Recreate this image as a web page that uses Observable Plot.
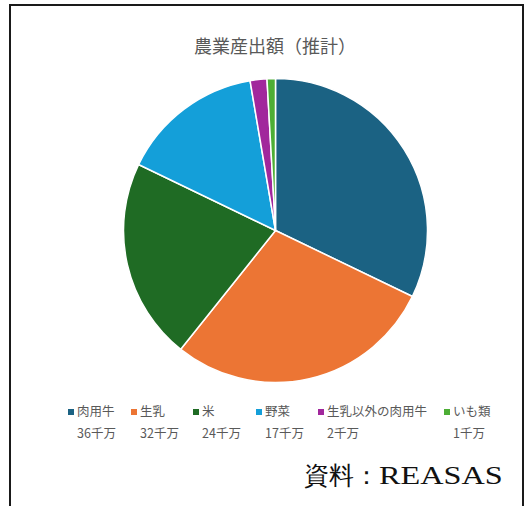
<!DOCTYPE html>
<html>
<head>
<meta charset="utf-8">
<script src="https://cdn.jsdelivr.net/npm/d3@7"></script>
<script src="https://cdn.jsdelivr.net/npm/@observablehq/plot@0.6"></script>
<style>
  html, body { margin: 0; padding: 0; background: #fff; }
  #wrap { position: relative; width: 526px; height: 506px; overflow: hidden; font-family: "Noto Sans CJK JP", "Noto Sans", sans-serif; }
  #frame { position: absolute; left: 9px; top: 4px; width: 511px; height: 520px; border: 2px solid #1a1a1a; box-sizing: content-box; }
  #title { position: absolute; left: 0; width: 550px; top: 33px; text-align: center; font-size: 18px; color: #595959; line-height: 24px; }
  #chart { position: absolute; left: 0; top: 0; }
  .lg { position: absolute; font-size: 12.5px; color: #595959; line-height: 16px; white-space: nowrap; }
  .sw { position: absolute; width: 6px; height: 6px; }
  #caption { position: absolute; left: 304px; top: 459px; font-family: "Liberation Serif", "DejaVu Serif", serif; font-size: 25px; color: #111; white-space: nowrap; }
  #caption .lat { display: inline-block; transform: scaleX(1.29); transform-origin: left center; }
</style>
</head>
<body>
<div id="wrap">
  <div id="chart"></div>
  <div id="frame"></div>
  <div id="title">農業産出額（推計）</div>
  <div id="legend"></div>
  <div id="caption">資料：<span class="lat">REASAS</span></div>
</div>
<script>
const names = ["肉用牛", "生乳", "米", "野菜", "生乳以外の肉用牛", "いも類"];
const values = [36, 32, 24, 17, 2, 1];
const valueLabels = ["36千万", "32千万", "24千万", "17千万", "2千万", "1千万"];
const colors = ["#1b6283", "#ec7534", "#1f6b24", "#149fd9", "#a1279c", "#4dae35"];

const rows = names.map((n, i) => ({name: n, value: values[i], label: valueLabels[i]}));

const pieMark = (index, scales) => {
  const cx = scales.x(0), cy = scales.y(0);
  const r = scales.x(1) - scales.x(0);
  const arcs = d3.pie().sort(null).value(d => d.value)(rows);
  const arc = d3.arc().innerRadius(0).outerRadius(r);
  const g = d3.create("svg:g").attr("transform", `translate(${cx},${cy})`);
  g.selectAll("path").data(arcs).join("path")
    .attr("d", arc)
    .attr("fill", d => scales.color(d.data.name))
    .attr("stroke", "#fff")
    .attr("stroke-width", 1.5)
    .attr("stroke-linejoin", "round");
  return g.node();
};

const plot = Plot.plot({
  width: 526,
  height: 400,
  margin: 0,
  x: {domain: [-1, 1], range: [123.5, 427.5], axis: null},
  y: {domain: [-1, 1], range: [78.5, 382.5], axis: null},
  color: {domain: names, range: colors},
  marks: [
    Plot.dot(rows, {x: () => 0, y: () => 0, fill: "name", fillOpacity: 0, r: 1}),
    pieMark
  ]
});
document.getElementById("chart").appendChild(plot);

// legend (HTML) using the Plot color scale
const color = plot.scale("color");
const legendX = [77, 140, 202, 265, 327, 453];
const legendRowY = [403, 425];
const legend = document.getElementById("legend");
rows.forEach((d, i) => {
  const sw = document.createElement("div");
  sw.className = "sw";
  sw.style.left = (legendX[i] - 9) + "px";
  sw.style.top = (legendRowY[0] + 6) + "px";
  sw.style.background = color.apply(d.name);
  legend.appendChild(sw);
  const t = document.createElement("div");
  t.className = "lg";
  t.style.left = legendX[i] + "px";
  t.style.top = legendRowY[0] + "px";
  t.textContent = d.name;
  legend.appendChild(t);
  const v = document.createElement("div");
  v.className = "lg";
  v.style.left = legendX[i] + "px";
  v.style.top = legendRowY[1] + "px";
  v.textContent = d.label;
  legend.appendChild(v);
});
</script>
</body>
</html>
